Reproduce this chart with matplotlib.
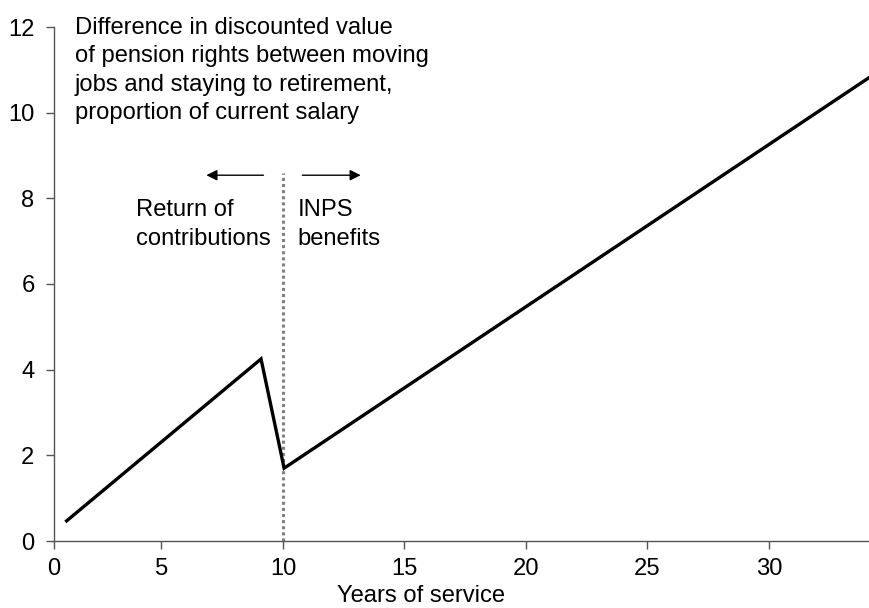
import matplotlib
matplotlib.use("Agg")
import matplotlib.pyplot as plt

plt.rcParams["font.family"] = ["Liberation Sans", "DejaVu Sans"]

# values
years = [1.1, 9.1, 10.05, 34.1]
value_gap = [0.47, 4.25, 1.70, 10.81]
x_ticks = [5, 10, 15, 20, 25, 30]
y_ticks = [0, 2, 4, 6, 8, 10, 12]
break_year = 10

fs = 17.1
fig = plt.figure(figsize=(8.7, 6.08), dpi=100)
ax = fig.add_axes([54 / 870, 1 - 541 / 608, 1 - 54 / 870, (541 - 27) / 608])

x_left = 0.58
ax.set_xlim(x_left, 34.16)
ax.set_ylim(0, 12)

# dotted divider at the 10-year mark
ax.plot([break_year, break_year], [0, 8.6], color="#808080", linewidth=2.2,
        linestyle=(0, (1, 1)), zorder=2)

ax.plot(years, value_gap, color="black", linewidth=2.4, solid_joinstyle="miter", zorder=3)

# spines and ticks
for side in ["top", "right"]:
    ax.spines[side].set_visible(False)
for side in ["left", "bottom"]:
    ax.spines[side].set_color("#555555")
    ax.spines[side].set_linewidth(1.0)

ax.set_xticks([x_left] + x_ticks)
ax.set_xticklabels(["0"] + [str(t) for t in x_ticks])
ax.set_yticks(y_ticks)
ax.tick_params(axis="both", direction="out", length=6, width=1.0, color="#555555",
               labelsize=fs, labelcolor="black")
ax.tick_params(axis="y", pad=8)
ax.tick_params(axis="x", pad=6)

ax.set_xlabel("Years of service", fontsize=fs)
ax.xaxis.set_label_coords((421 - 54) / (870 - 54), -0.085)

# annotation texts
ax.text(1.44, 12.23, "Difference in discounted value\nof pension rights between moving\n"
        "jobs and staying to retirement,\nproportion of current salary",
        fontsize=fs, ha="left", va="top", linespacing=1.37, clip_on=False)
ax.text(3.95, 7.39, "Return of\ncontributions", fontsize=fs, ha="left", va="center",
        linespacing=1.37)
ax.text(10.6, 7.39, "INPS\nbenefits", fontsize=fs, ha="left", va="center",
        linespacing=1.37)

ax.annotate("", xy=(6.85, 8.54), xytext=(9.2, 8.54),
            arrowprops=dict(arrowstyle="-|>", color="black", lw=1.0,
                            mutation_scale=16, shrinkA=0, shrinkB=0))
ax.annotate("", xy=(13.2, 8.54), xytext=(10.8, 8.54),
            arrowprops=dict(arrowstyle="-|>", color="black", lw=1.0,
                            mutation_scale=16, shrinkA=0, shrinkB=0))

fig.savefig("out.png", dpi=100)
